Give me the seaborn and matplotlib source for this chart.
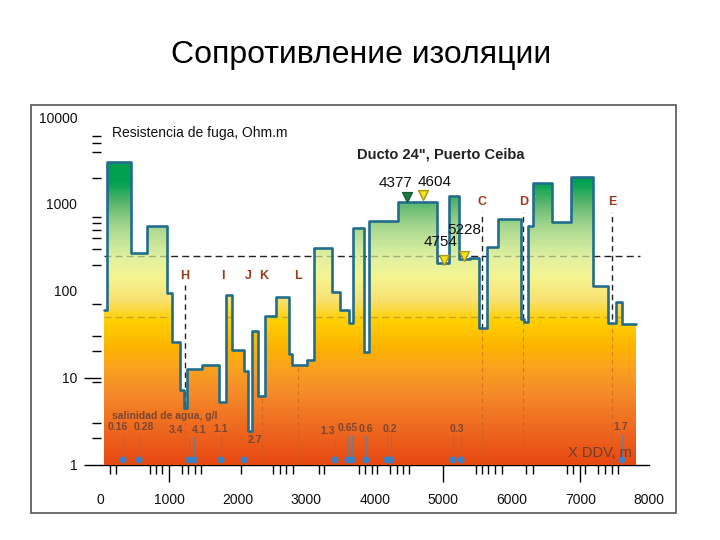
import numpy as np
import matplotlib
matplotlib.use("Agg")
import matplotlib.pyplot as plt
import seaborn as sns
from matplotlib.colors import LinearSegmentedColormap
from matplotlib.patches import Rectangle
from matplotlib.ticker import FixedLocator, NullFormatter, NullLocator

sns.set_theme(style="white")
plt.rcParams["font.family"] = ["Liberation Sans", "DejaVu Sans"]

# ── Data: leakage resistance profile (step per section) ──────────────────────
step_edges = [50, 95, 441, 670, 971, 1035, 1160, 1215, 1263, 1473,
              1730, 1823, 1911, 2091, 2153, 2203, 2295, 2390, 2553, 2747,
              2787, 3015, 3117, 3371, 3492, 3623, 3686, 3847, 3915, 4343,
              4912, 5083, 5229, 5390, 5528, 5642, 5803, 6134, 6182, 6232,
              6314, 6582, 6860, 7190, 7409, 7518, 7604, 7813]
step_values = [60, 3000, 270, 560, 95, 26, 7.3, 4.5, 12.5, 14,
               5.3, 89, 21, 12, 2.4, 34, 6.1, 51, 85, 18.5,
               14, 16, 310, 97, 60, 43, 530, 19.5, 640, 1060,
               207, 1240, 232, 240, 37.5, 316, 668, 47, 44, 555,
               1750, 612, 2050, 114, 42, 75, 41]

# reference levels
level_high = 250
level_low = 50

# section letters
letters = ["H", "I", "J", "K", "L", "C", "D", "E"]
letter_x = [1229, 1788, 2153, 2372, 2883, 5570, 6168, 7467]
letter_y = [148, 148, 148, 148, 148, 1060, 1060, 1060]
guide_x = [1229, 5570, 6168, 7467]
guide_top = [116, 806, 806, 806]
cut_x = [1229, 2355, 2883, 5570, 6168, 7467]

# flagged points
flag_x = [4470, 4704, 5010, 5302]
flag_y = [1200, 1260, 228, 252]
flag_labels = ["4377", "4604", "4754", "5228"]
flag_label_x = [4295, 4877, 4966, 5302]
flag_label_y = [1735, 1780, 363, 499]

# water salinity, g/l
salt_labels = ["0.16", "0.28", "3.4", "4.1", "1.1", "2.7",
               "1.3", "0.65", "0.6", "0.2", "0.3", "1.7"]
salt_x = [253, 632, 1098, 1434, 1755, 2250, 3317, 3609, 3872, 4222, 5193, 7594]
salt_y = [2.7, 2.7, 2.5, 2.5, 2.55, 1.9, 2.45, 2.65, 2.55, 2.55, 2.55, 2.7]
tap_x = [325, 558, 1288, 1361, 1755, 2091, 3418, 3607, 3666, 3872,
         4178, 4236, 5141, 5258, 7609]
tap_top = [2.25, 2.25, 2.1, 2.1, 2.2, 1.13, 2.0, 2.2, 2.2, 2.2,
           2.2, 2.2, 2.2, 2.2, 2.25]

survey_ticks = [134, 222, 718, 806, 893, 1185, 1273, 1375, 1463, 2047,
                2514, 2616, 2704, 2806, 3185, 3258, 3769, 3857, 3959, 4032,
                4222, 4324, 4412, 4499, 5477, 5565, 5653, 5755, 5857, 6207,
                6309, 6806, 6893, 7068, 7258, 7360, 7463, 7550]
y_minor = [2, 3, 9, 20, 30, 70, 200, 300, 400, 500, 600, 700, 2000, 4000, 5000, 6000]

# ── Figure ───────────────────────────────────────────────────────────────────
fig = plt.figure(figsize=(7.2, 5.4), dpi=100)
ax = fig.add_axes([0.14, 0.1398, 0.7611, 0.6435])
ax.set_yscale("log")
ax.set_xlim(0, 8000)
ax.set_ylim(1, 10000)

step_x = step_edges
step_y = step_values + [step_values[-1]]

# gradient fill clipped to the profile
fill = ax.fill_between(step_x, step_y, 1, step="post", facecolor="none", edgecolor="none")
clip = fill.get_paths()[0]
cmap = LinearSegmentedColormap.from_list("resist", [
    (0.0, "#e84812"), (0.1075, "#ee6a20"), (0.205, "#f58a28"), (0.2725, "#f8a020"),
    (0.3375, "#fbb300"), (0.415, "#ffd000"), (0.4725, "#f8e070"), (0.54, "#f4f490"),
    (0.5975, "#e0f0a0"), (0.6825, "#a8d890"), (0.75, "#60b870"), (0.8125, "#00a050"),
    (1.0, "#00a050")])
yg = np.logspace(0, 4, 300)
cg = np.log10(0.5 * (yg[1:] + yg[:-1])).reshape(-1, 1) / 4
mesh = ax.pcolormesh([0, 8000], yg, cg, cmap=cmap, vmin=0, vmax=1, zorder=2, shading="flat")
mesh.set_clip_path(clip, ax.transData)

# dashed reference lines
ax.hlines(level_high, 50, 7870, colors="#222222", linestyles=(0, (5, 3)), lw=1, zorder=1)
hl = ax.hlines(level_high, 50, 7870, colors="#6f7d50", linestyles=(0, (5, 3)), lw=1, alpha=0.55, zorder=3)
hl.set_clip_path(clip, ax.transData)
ll = ax.hlines(level_low, 50, 7870, colors="#b8862a", linestyles=(0, (5, 3)), lw=1, alpha=0.65, zorder=3)
ll.set_clip_path(clip, ax.transData)

ax.vlines(guide_x, 1, guide_top, colors="#222222", linestyles=(0, (4, 3)), lw=1, zorder=1)
vl = ax.vlines(cut_x, 1, 10000, colors="#c0601a", linestyles=(0, (4, 3)), lw=0.8, alpha=0.6, zorder=3)
vl.set_clip_path(clip, ax.transData)

# profile outline
sns.lineplot(x=step_x, y=step_y, ax=ax, drawstyle="steps-post", color="#236d8c",
             lw=1.9, zorder=4, estimator=None, sort=False)

for t, x, y in zip(letters, letter_x, letter_y):
    ax.text(x, y, t, ha="center", va="center", fontsize=9, fontweight="bold", color="#9c3b1c")

# flagged points
ax.scatter(flag_x[:1], flag_y[:1], marker="v", s=50, color="#1f7a4a", edgecolor="#155f38", zorder=5)
ax.scatter(flag_x[1:], flag_y[1:], marker="v", s=50, color="#f4e020", edgecolor="#a89a10", zorder=5)
for t, x, y in zip(flag_labels, flag_label_x, flag_label_y):
    ax.text(x, y, t, ha="center", va="center", fontsize=11, color="#111111", zorder=6)

# salinity
ax.vlines(tap_x, 1.13, tap_top, colors="#5a7fa8", lw=0.8, alpha=0.8, zorder=5)
sns.scatterplot(x=tap_x, y=[1.13] * len(tap_x), ax=ax, color="#3f82c4", s=26,
                edgecolor="none", zorder=6)
ax.text(163, 3.6, "salinidad de agua, g/l", fontsize=7.5, fontweight="bold",
        color="#7b4632", ha="left", va="center", zorder=6)
for t, x, y in zip(salt_labels, salt_x, salt_y):
    ax.text(x, y, t, ha="center", va="center", fontsize=7.5, fontweight="bold",
            color="#7b4632", zorder=6)

ax.text(0.0204, 0.954, "Resistencia de fuga, Ohm.m", transform=ax.transAxes,
        fontsize=10, color="#111111", ha="left", va="center")
ax.text(0.621, 0.891, "Ducto 24\", Puerto Ceiba", transform=ax.transAxes,
        fontsize=10.5, fontweight="bold", color="#222222", ha="center", va="center")
ax.text(0.970, 0.033, "X DDV, m", transform=ax.transAxes, fontsize=10.5,
        color="#5a3a30", alpha=0.85, ha="right", va="center", zorder=6)

# axes, ticks
for s in ["top", "right", "left"]:
    ax.spines[s].set_visible(False)
ax.spines["bottom"].set_color("black")
ax.spines["bottom"].set_linewidth(1)
ax.spines["bottom"].set_zorder(1)

ax.set_xticks(range(0, 8001, 1000))
ax.xaxis.set_minor_locator(FixedLocator(survey_ticks))
ax.set_yticks([1, 10, 100, 1000, 10000], labels=["1", "10", "100", "1000", "10000"])
ax.yaxis.set_minor_locator(FixedLocator(y_minor))
ax.yaxis.set_minor_formatter(NullFormatter())
ax.tick_params(which="major", length=0, labelsize=10, labelcolor="#111111")
ax.tick_params(axis="x", which="major", pad=20.5)
ax.tick_params(axis="y", which="major", pad=17)
ax.tick_params(which="minor", length=6.5, width=1, color="black", direction="out",
               bottom=True, left=True)

secx = ax.secondary_xaxis("bottom")
secx.set_xticks([1000, 5000, 7000], labels=["", "", ""])
secx.tick_params(length=12, width=1, color="black", bottom=True)
secx.spines["bottom"].set_visible(False)

secy = ax.secondary_yaxis("left")
secy.set_yticks([1, 10], labels=["", ""])
secy.yaxis.set_minor_locator(NullLocator())
secy.tick_params(length=12, width=1, color="black", left=True)
secy.spines["left"].set_visible(False)

fig.text(0.502, 0.898, "Сопротивление изоляции", ha="center", va="center",
         fontsize=23, color="black")
fig.add_artist(Rectangle((31 / 720, 1 - 513 / 540), 645 / 720, 408 / 540,
                         transform=fig.transFigure, fill=False, ec="#555555", lw=1.2))

fig.savefig("out.png", dpi=100)
